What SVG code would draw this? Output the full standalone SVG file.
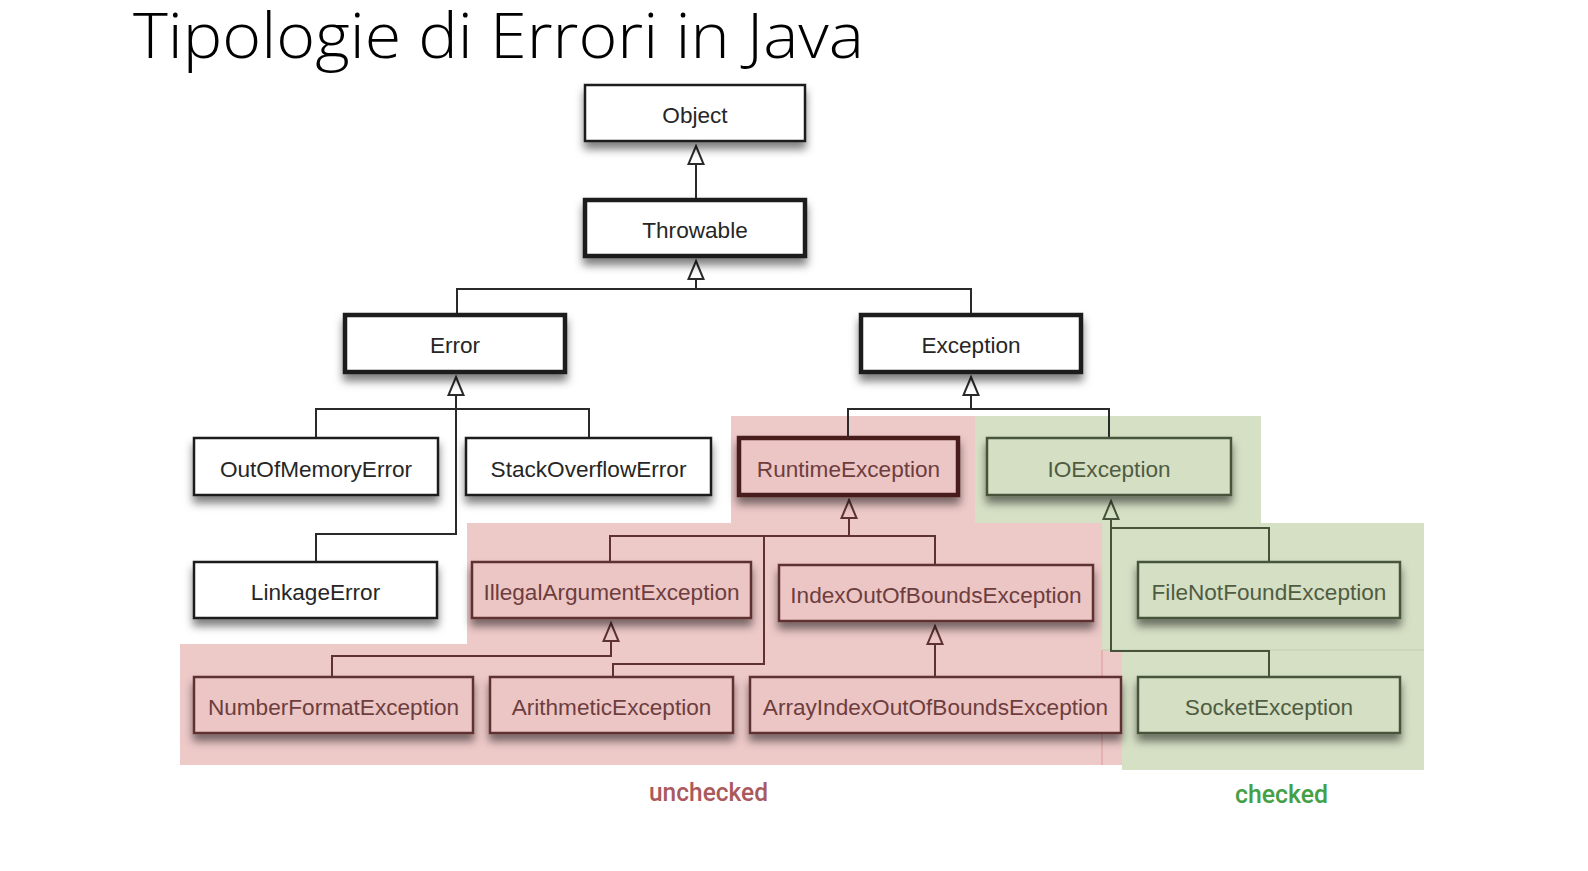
<svg xmlns="http://www.w3.org/2000/svg" width="1588" height="871" viewBox="0 0 1588 871">
<style>
.title{font-family:"Open Sans","Liberation Sans",sans-serif;font-weight:300;font-size:63px;fill:#000}
.n rect{stroke-width:2.5}
.n text{font-family:"Liberation Sans",Arial,sans-serif;font-size:22.6px;text-anchor:middle}
.w rect{fill:#fff;stroke:#1e1e1e}
.w text{fill:#262626}
.r rect{fill:#ebc6c5;stroke:#5e3232}
.r text{fill:#6e3d3d}
.g rect{fill:#d5dfc3;stroke:#46533a}
.g text{fill:#4f5c42}
.thick rect{stroke-width:4.5}
.r.thick rect{stroke:#4a1d1d}
.c path{fill:none;stroke-width:2}
.cw{stroke:#2a2a2a}
.cr{stroke:#5e3232}
.cg{stroke:#46533a}
.lbl{font-family:Roboto,"Liberation Sans",sans-serif;font-weight:500;font-size:25px;text-anchor:middle}
</style>
<defs>
<filter id="sh" x="-10%" y="-20%" width="120%" height="170%">
<feDropShadow dx="0" dy="7" stdDeviation="4" flood-color="#000" flood-opacity="0.5"/>
</filter>
<marker id="aW" markerUnits="userSpaceOnUse" orient="auto" overflow="visible" refX="0" refY="0" markerWidth="20" markerHeight="20"><path d="M0,0 L18,-7.5 L18,7.5 Z" fill="#fff" stroke="#2a2a2a" stroke-width="2"/></marker>
<marker id="aR" markerUnits="userSpaceOnUse" orient="auto" overflow="visible" refX="0" refY="0" markerWidth="20" markerHeight="20"><path d="M0,0 L18,-7.5 L18,7.5 Z" fill="#ebc6c5" stroke="#5e3232" stroke-width="2"/></marker>
<marker id="aG" markerUnits="userSpaceOnUse" orient="auto" overflow="visible" refX="0" refY="0" markerWidth="20" markerHeight="20"><path d="M0,0 L18,-7.5 L18,7.5 Z" fill="#d5dfc3" stroke="#46533a" stroke-width="2"/></marker>
</defs>
<rect width="1588" height="871" fill="#fff"/>
<text class="title" x="133" y="58" textLength="731" lengthAdjust="spacingAndGlyphs">Tipologie di Errori in Java</text>

<g id="regions">
<polygon points="731,416 975,416 975,523 1102,523 1102,650 1122,650 1122,765 180,765 180,644 467,644 467,523 731,523" fill="#edc9c8"/>
<polygon points="975,416 1261,416 1261,523 1424,523 1424,770 1122,770 1122,650 1102,650 1102,523 975,523" fill="#d6e0c5"/>
<line x1="1102" y1="650" x2="1424" y2="650" stroke="#c9d4b4" stroke-width="1.5"/>
<line x1="1102" y1="650" x2="1102" y2="765" stroke="#e0a8a8" stroke-width="1.5"/>
</g>

<g id="connectors" class="c">
<path class="cw" d="M696,146 V200" marker-start="url(#aW)"/>
<path class="cw" d="M457,315 V289 H971 V315"/>
<path class="cw" d="M696,261 V289" marker-start="url(#aW)"/>
<path class="cw" d="M456,377 V534 H316 V562" marker-start="url(#aW)"/>
<path class="cw" d="M316,438 V409 H589 V438"/>
<path class="cw" d="M971,377 V409" marker-start="url(#aW)"/>
<path class="cw" d="M848,438 V409 H1109 V438"/>
<path class="cr" d="M849,500 V536" marker-start="url(#aR)"/>
<path class="cr" d="M610,562 V536 H935 V565"/>
<path class="cr" d="M764,536 V664 H613 V677"/>
<path class="cr" d="M611,623 V656 H332 V677" marker-start="url(#aR)"/>
<path class="cr" d="M935,626 V677" marker-start="url(#aR)"/>
<path class="cg" d="M1111,501 V651 H1269 V677" marker-start="url(#aG)"/>
<path class="cg" d="M1111,528 H1269 V562"/>
</g>

<g id="object" class="n w"><rect x="585" y="85" width="220" height="56" filter="url(#sh)"/><text x="695" y="123">Object</text></g>
<g id="throwable" class="n w thick"><rect x="585" y="200" width="220" height="56" filter="url(#sh)"/><text x="695" y="238">Throwable</text></g>
<g id="error" class="n w thick"><rect x="345" y="315" width="220" height="57" filter="url(#sh)"/><text x="455" y="353">Error</text></g>
<g id="exception" class="n w thick"><rect x="861" y="315" width="220" height="57" filter="url(#sh)"/><text x="971" y="353">Exception</text></g>
<g id="outofmemoryerror" class="n w"><rect x="194" y="438" width="244" height="57" filter="url(#sh)"/><text x="316" y="476.5">OutOfMemoryError</text></g>
<g id="stackoverflowerror" class="n w"><rect x="466" y="438" width="245" height="57" filter="url(#sh)"/><text x="588.5" y="476.5">StackOverflowError</text></g>
<g id="runtimeexception" class="n r thick"><rect x="739" y="438" width="219" height="57" filter="url(#sh)"/><text x="848.5" y="476.5">RuntimeException</text></g>
<g id="ioexception" class="n g"><rect x="987" y="438" width="244" height="57" filter="url(#sh)"/><text x="1109" y="476.5">IOException</text></g>
<g id="linkageerror" class="n w"><rect x="194" y="562" width="243" height="56" filter="url(#sh)"/><text x="315.5" y="599.5">LinkageError</text></g>
<g id="illegalargumentexception" class="n r"><rect x="472" y="562" width="279" height="56" filter="url(#sh)"/><text x="611.5" y="599.5">IllegalArgumentException</text></g>
<g id="indexoutofboundsexception" class="n r"><rect x="779" y="565" width="314" height="56" filter="url(#sh)"/><text x="936" y="602.5">IndexOutOfBoundsException</text></g>
<g id="filenotfoundexception" class="n g"><rect x="1138" y="562" width="262" height="56" filter="url(#sh)"/><text x="1269" y="599.5">FileNotFoundException</text></g>
<g id="numberformatexception" class="n r"><rect x="194" y="677" width="279" height="56" filter="url(#sh)"/><text x="333.5" y="714.5">NumberFormatException</text></g>
<g id="arithmeticexception" class="n r"><rect x="490" y="677" width="243" height="56" filter="url(#sh)"/><text x="611.5" y="714.5">ArithmeticException</text></g>
<g id="arrayindexoutofboundsexception" class="n r"><rect x="750" y="677" width="371" height="56" filter="url(#sh)"/><text x="935.5" y="714.5">ArrayIndexOutOfBoundsException</text></g>
<g id="socketexception" class="n g"><rect x="1138" y="677" width="262" height="56" filter="url(#sh)"/><text x="1269" y="714.5">SocketException</text></g>

<text class="lbl" x="708.5" y="801" fill="#aa5a5c" textLength="119" lengthAdjust="spacingAndGlyphs">unchecked</text>
<text class="lbl" x="1281.5" y="803" fill="#45a045" textLength="93" lengthAdjust="spacingAndGlyphs">checked</text>
</svg>
